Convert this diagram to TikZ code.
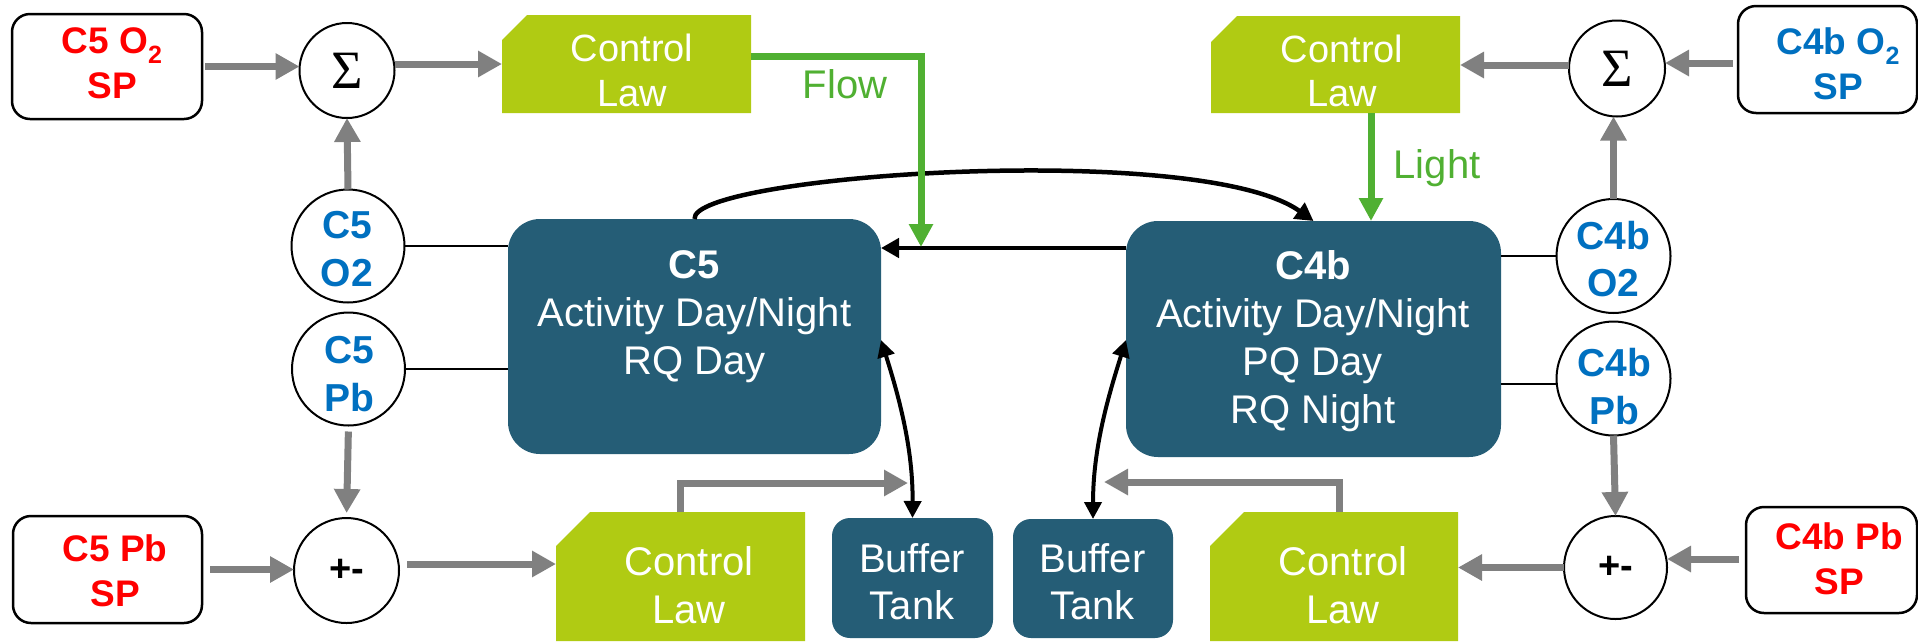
\documentclass[tikz,border=0pt]{standalone}
\usepackage{fontspec}
\setmainfont{Liberation Sans}
\newfontfamily\greekserif{Liberation Serif}
\usetikzlibrary{arrows.meta}

\definecolor{tealbox}{RGB}{37,93,118}
\definecolor{lawgreen}{RGB}{176,203,19}
\definecolor{flowgreen}{RGB}{80,176,50}
\definecolor{spred}{RGB}{255,0,0}
\definecolor{spblue}{RGB}{0,112,192}
\definecolor{arrowgray}{RGB}{128,128,128}

\newcommand{\fsz}[2]{\fontsize{#1}{#2}\selectfont}
\newcommand{\subtwo}{\raisebox{-0.27em}{\fsz{25}{25}2}}
% green control-law block with a cut top-left corner
\newcommand{\lawfill}[2]{\fill[lawgreen] ([yshift=-#2]#1.north west) -- ([xshift=#2]#1.north west) -- (#1.north east) -- (#1.south east) -- (#1.south west) -- cycle;}

\begin{document}
\begin{tikzpicture}[x=1pt,y=-1pt,
  every node/.style={inner sep=0pt,outer sep=0pt},
  spbox/.style={draw=black,line width=2.5pt,rounded corners=18pt,fill=white},
  ring/.style={circle,draw=black,line width=2pt,fill=white},
  procbox/.style={fill=tealbox,rounded corners=32pt},
  tankbox/.style={fill=tealbox,rounded corners=18pt},
  sptext/.style={anchor=north,align=center,font=\fsz{37}{45}\bfseries},
  ringtext/.style={anchor=north,align=center,font=\fsz{39}{48}\bfseries,text=spblue},
  whitetext/.style={anchor=north,align=center,text=white},
  flowlabel/.style={anchor=base,text=flowgreen,font=\fsz{40}{48}},
  grayarrow/.style={draw=arrowgray,line width=7pt,-{Triangle[length=24pt,width=25pt]}},
  greenarrow/.style={draw=flowgreen,line width=7pt,-{Triangle[length=23pt,width=23pt]}},
  blackarrow/.style={draw=black,line width=4.5pt,-{Triangle[length=18pt,width=19pt]}},
  twoway/.style={draw=black,line width=4pt,{Triangle[length=17pt,width=17pt]}-{Triangle[length=17pt,width=17pt]}},
  link/.style={draw=black,line width=2pt}
]
\fill[white] (0,0) rectangle (1918,641);
\useasboundingbox (0,0) rectangle (1918,641);

% set-point boxes
\node[spbox,minimum width=190pt,minimum height=105pt] (c5o2sp) at (107,66.5) {};
\node[spbox,minimum width=189pt,minimum height=107pt] (c5pbsp) at (107.5,569.5) {};
\node[spbox,minimum width=179pt,minimum height=107pt] (c4bo2sp) at (1827.5,59.5) {};
\node[spbox,minimum width=171pt,minimum height=106pt] (c4bpbsp) at (1831.5,560) {};

% summing junctions
\node[ring,minimum size=95pt,font=\greekserif\fsz{54}{54}] (sigma1) at (347,70.5) {Σ};
\node[ring,minimum size=96pt,font=\greekserif\fsz{54}{54}] (sigma2) at (1617,68.5) {Σ};
\node[ring,minimum size=105pt,font=\fsz{38}{38}\bfseries] (pm1) at (346.5,570.5) {+-};
\node[ring,minimum size=103pt,font=\fsz{38}{38}\bfseries] (pm2) at (1615.5,567.5) {+-};

% measurement rings
\node[ring,minimum size=113pt] (c5o2) at (348,246) {};
\node[ring,minimum size=113pt] (c5pb) at (348.5,369) {};
\node[ring,minimum size=114pt] (c4bo2) at (1613.5,256) {};
\node[ring,minimum size=114pt] (c4bpb) at (1613.5,378.5) {};

% process and buffer boxes
\node[procbox,minimum width=373pt,minimum height=235pt] (c5box) at (694.5,336.5) {};
\node[procbox,minimum width=375pt,minimum height=236pt] (c4bbox) at (1313.5,339) {};
\node[tankbox,minimum width=161pt,minimum height=120pt] (bt1) at (912.5,578) {};
\node[tankbox,minimum width=160pt,minimum height=119pt] (bt2) at (1093,578.5) {};

% control law blocks
\node[minimum width=249pt,minimum height=98pt] (cl1) at (626.5,64) {};
\lawfill{cl1}{25pt}
\node[minimum width=249pt,minimum height=97pt] (cl2) at (1335.5,64.5) {};
\lawfill{cl2}{26pt}
\node[minimum width=249pt,minimum height=129pt] (cl3) at (680.5,576.5) {};
\lawfill{cl3}{34pt}
\node[minimum width=248pt,minimum height=129pt] (cl4) at (1334,576.5) {};
\lawfill{cl4}{34pt}

% helper points
\coordinate (fb1) at (908,483);
\coordinate (fb2) at (1104,482);
\coordinate (flowend) at (921,247);
\coordinate (flowstart) at ([yshift=8pt]cl1.east);
\coordinate (lightstart) at ([xshift=35.5pt]cl2.south);
\coordinate (hbstart) at ([yshift=91pt]c4bbox.west);
\coordinate (d1a) at ([yshift=-3.5pt]c5box.east);
\coordinate (d2a) at ([yshift=-1pt]c4bbox.west);
\coordinate (g6) at ([yshift=6.5pt]pm1.east);
\coordinate (g7) at ([yshift=-3.5pt]c4bo2sp.west);
\coordinate (g8) at ([yshift=-0.5pt]cl2.east);
\coordinate (g11) at ([yshift=1pt]c4bpbsp.west);
\coordinate (g14) at ([xshift=5pt]cl4.north);
\coordinate (l4) at ([yshift=-5pt]c4bpb.west);

% sensor links
\draw[link] (c5o2.east) -- (c5o2.east -| c5box.west);
\draw[link] (c5pb.east) -- (c5pb.east -| c5box.west);
\draw[link] (c4bo2.west) -- (c4bo2.west -| c4bbox.east);
\draw[link] (l4) -- (l4 -| c4bbox.east);

% signal paths, C5 side
\draw[grayarrow,shorten <=3pt] (c5o2sp.east) -- (c5o2sp.east -| sigma1.west);
\draw[grayarrow] (cl1.west -| sigma1.east) -- (cl1.west);
\draw[grayarrow] (c5o2.north) -- (sigma1.south);
\draw[grayarrow,shorten <=6pt,shorten >=5pt] (c5pb.south) -- (pm1.north);
\draw[grayarrow,shorten <=8pt] (c5pbsp.east) -- (c5pbsp.east -| pm1.west);
\draw[grayarrow,shorten <=8pt] (g6) -- (g6 -| cl3.west);
\draw[grayarrow] (cl3.north) |- (fb1);

% signal paths, C4b side
\draw[grayarrow,shorten <=5pt] (g7) -- (g7 -| sigma2.east);
\draw[grayarrow] (g8 -| sigma2.west) -- (g8);
\draw[grayarrow] (c4bo2.north) -- (c4bo2.north |- sigma2.south);
\draw[grayarrow] (c4bpb.south) -- (pm2.north);
\draw[grayarrow,shorten <=7pt] (g11) -- (g11 -| pm2.east);
\draw[grayarrow] (pm2.west) -- (pm2.west -| cl4.east);
\draw[grayarrow] (g14) |- (fb2);

% exchanges between the two compartments
\draw[blackarrow] (hbstart) -- (hbstart -| c5box.east);
\draw[blackarrow] (c5box.north) .. controls (690,175) and (1200,140) .. (c4bbox.north);
\draw[twoway] (d1a) .. controls (900,400) and (913,450) .. (bt1.north);
\draw[twoway] (d2a) .. controls (1107,400) and (1093,450) .. (bt2.north);

% actuation
\draw[greenarrow] (flowstart) -| (flowend);
\draw[greenarrow] (lightstart) -- (lightstart |- c4bbox.north);

% texts
\node[sptext,text=spred] (t1) at (112,28) {C5 O\subtwo\\SP};
\node[sptext,text=spred] (t2) at (115,535) {C5 Pb\\SP};
\node[sptext,text=spblue] (t3) at (1838,28) {C4b O\subtwo\\SP};
\node[sptext,text=spred] (t4) at (1839,523) {C4b Pb\\SP};
\node[ringtext] (t5) at (347,211.6) {C5\\O2};
\node[ringtext] (t6) at (349,336.6) {C5\\Pb};
\node[ringtext,font=\fsz{39}{47}\bfseries] (t7) at (1613,221.6) {C4b\\O2};
\node[ringtext] (t8) at (1614,348.6) {C4b\\Pb};
\node[whitetext,font=\fsz{38}{45}] (t9) at (632,34.3) {Control\\Law};
\node[whitetext,font=\fsz{38}{44}] (t10) at (1342,35.3) {Control\\Law};
\node[whitetext,font=\fsz{40}{48}] (t11) at (689,547) {Control\\Law};
\node[whitetext,font=\fsz{40}{48}] (t12) at (1343,547) {Control\\Law};
\node[whitetext,font=\fsz{40}{48}] (t13) at (694.5,251) {\textbf{C5}\\Activity Day/Night\\RQ Day};
\node[whitetext,font=\fsz{40}{48}] (t14) at (1313,251) {\textbf{C4b}\\Activity Day/Night\\PQ Day\\RQ Night};
\node[whitetext,font=\fsz{40}{47}] (t15) at (912,544) {Buffer\\Tank};
\node[whitetext,font=\fsz{40}{47}] (t16) at (1092.5,544) {Buffer\\Tank};
\node[flowlabel] (t17) at (845,98) {Flow};
\node[flowlabel] (t18) at (1437,178) {Light};
\end{tikzpicture}
\end{document}
